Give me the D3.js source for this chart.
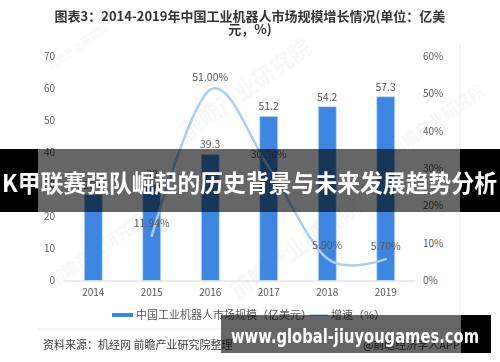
<!DOCTYPE html>
<html><head><meta charset="utf-8">
<script src="https://cdn.jsdelivr.net/npm/d3@7/dist/d3.min.js"></script>
<style>html,body{margin:0;padding:0;background:#fff;}svg{display:block;}</style>
</head><body>
<script>
const years = ["2014","2015","2016","2017","2018","2019"];
const marketSize = [26.8, 30, 39.3, 51.2, 54.2, 57.3];
const marketLabels = ["26.8","30","39.3","51.2","54.2","57.3"];
const growth = [null, 11.94, 51.00, 30.30, 5.90, 5.70];
const growthLabels = [null, "11.94%", "51.00%", "30.30%", "5.90%", "5.70%"];
const leftTicks = [0,10,20,30,40,50,60,70];
const rightTicks = [0,0.1,0.2,0.3,0.4,0.5,0.6];
const titleLines = ["图表3：2014-2019年中国工业机器人市场规模增长情况(单位：亿美", "元，%)"];
const legendNames = ["中国工业机器人市场规模（亿美元）", "增速（%）"];
const sourceText = "资料来源：机经网 前瞻产业研究院整理";
const appText = "@前瞻经济学人APP";
const bannerText = "K甲联赛强队崛起的历史背景与未来发展趋势分析";
const urlText = "www.global-jiuyougames.com";

const W = 500, H = 362;
const FONT = "'Noto Sans CJK SC','Noto Sans',sans-serif";
const barColor = "#3d86e1", lineColor = "#a9cef6", textColor = "#595959";

const svg = d3.select("body").append("svg").attr("width", W).attr("height", H)
  .style("font-family", FONT);

// faint watermarks
const wm = svg.append("g").attr("fill", "#000").attr("opacity", 0.035).attr("font-weight", "bold");
[[80,50,10],[250,95,22],[440,125,16],[100,255,16],[300,255,22]].forEach(([x,y,s])=>{
  wm.append("text").attr("transform",`translate(${x},${y}) rotate(-35)`).attr("text-anchor","middle")
    .attr("font-size", s).text("前瞻产业研究院");
});

// title
svg.append("g").selectAll("text").data(titleLines).join("text")
  .attr("x", 250).attr("y", (d,i)=> i===0 ? 21 : 34)
  .attr("text-anchor","middle").attr("font-size", 13).attr("font-weight","bold")
  .attr("fill","#333").text(d=>d);

const x = d3.scaleBand().domain(years).range([64,415]).paddingInner(0.692).paddingOuter(0.346);
const yL = d3.scaleLinear().domain([0,70]).range([280.5,56]);
const yR = d3.scaleLinear().domain([0,0.6]).range([280.5,56]);

// left axis
const gl = svg.append("g").attr("transform","translate(56,0)")
  .call(d3.axisLeft(yL).tickValues(leftTicks).tickSize(0).tickPadding(1));
gl.select(".domain").remove();
gl.selectAll("text").attr("fill",textColor).attr("font-size",10).style("font-family",FONT);

// right axis
const gr = svg.append("g").attr("transform","translate(422,0)")
  .call(d3.axisRight(yR).tickValues(rightTicks).tickFormat(d3.format(".0%")).tickSize(0).tickPadding(1));
gr.select(".domain").remove();
gr.selectAll("text").attr("fill",textColor).attr("font-size",10).style("font-family",FONT);

// bars
svg.append("g").selectAll("rect").data(years).join("rect")
  .attr("x", d=>x(d)).attr("width", x.bandwidth())
  .attr("y", (d,i)=>yL(marketSize[i])).attr("height",(d,i)=>yL(0)-yL(marketSize[i]))
  .attr("fill", barColor).attr("stroke","#c6dcf6").attr("stroke-width",0.8);

// bottom axis
const gb = svg.append("g").attr("transform",`translate(0,${yL(0)})`)
  .call(d3.axisBottom(x).tickSize(0).tickPadding(8));
gb.select(".domain").attr("stroke","#d9d9d9").attr("stroke-width",1.2);
gb.selectAll("text").attr("fill",textColor).attr("font-size",10).style("font-family",FONT);

// bar labels
svg.append("g").selectAll("text").data(years).join("text")
  .attr("x", d=>x(d)+x.bandwidth()/2).attr("y",(d,i)=>yL(marketSize[i])-6)
  .attr("text-anchor","middle").attr("font-size",10.5).attr("fill",textColor)
  .text((d,i)=>marketLabels[i]);

// growth line
const pts = years.map((d,i)=>({x:x(d)+x.bandwidth()/2, v:growth[i], l:growthLabels[i]})).filter(p=>p.v!==null);
const line = d3.line().x(p=>p.x).y(p=>yR(p.v/100)).curve(d3.curveCardinal.tension(0));
svg.append("path").datum(pts).attr("d", line).attr("fill","none")
  .attr("stroke", lineColor).attr("stroke-width", 2.5).attr("stroke-linecap","round");
svg.append("g").selectAll("text").data(pts).join("text")
  .attr("x", p=>p.x).attr("y", p=>yR(p.v/100)-9)
  .attr("text-anchor","middle").attr("font-size",10.5).attr("fill",textColor).text(p=>p.l);

// frame lines
svg.append("line").attr("x1",460).attr("x2",460).attr("y1",45).attr("y2",329).attr("stroke","#e9eef5").attr("stroke-width",1.2);
svg.append("line").attr("x1",38).attr("x2",460).attr("y1",329).attr("y2",329).attr("stroke","#e9eef5").attr("stroke-width",1.2);

// legend
const lg = svg.append("g");
lg.append("rect").attr("x",112).attr("y",313).attr("width",21).attr("height",4).attr("fill",barColor);
lg.append("text").attr("x",136).attr("y",319).attr("font-size",11).attr("fill",textColor).text(legendNames[0]);
lg.append("line").attr("x1",310).attr("x2",328).attr("y1",315).attr("y2",315).attr("stroke",lineColor).attr("stroke-width",2);
lg.append("text").attr("x",331).attr("y",319).attr("font-size",11).attr("fill",textColor).text(legendNames[1]);

// source
svg.append("text").attr("x",43).attr("y",349).attr("font-size",11).attr("fill","#404040").text(sourceText);
svg.append("text").attr("x",460).attr("y",349).attr("text-anchor","end").attr("font-size",11).attr("fill","#404040").text(appText);

// banner overlay
svg.append("rect").attr("x",38).attr("y",149).attr("width",422).attr("height",63).attr("fill","#000").attr("opacity",0.6);
svg.append("rect").attr("x",0).attr("y",149).attr("width",38).attr("height",63).attr("fill","#000");
svg.append("rect").attr("x",460).attr("y",149).attr("width",40).attr("height",63).attr("fill","#000");
svg.append("text").attr("x",2).attr("y",192)
  .attr("font-size",23.5).attr("font-weight","bold").attr("fill","#fff")
  .attr("textLength",495).attr("lengthAdjust","spacingAndGlyphs").text(bannerText);

// url overlay
svg.append("rect").attr("x",221).attr("y",315).attr("width",240).attr("height",38).attr("fill","#000").attr("opacity",0.6);
svg.append("rect").attr("x",461).attr("y",315).attr("width",30).attr("height",38).attr("fill","#000");
svg.append("text").attr("x",231).attr("y",343).attr("font-size",20).attr("font-weight","bold")
  .attr("fill","#fff").style("font-family","'DejaVu Sans',sans-serif")
  .attr("textLength",248).attr("lengthAdjust","spacingAndGlyphs").text(urlText);
</script>
</body></html>
